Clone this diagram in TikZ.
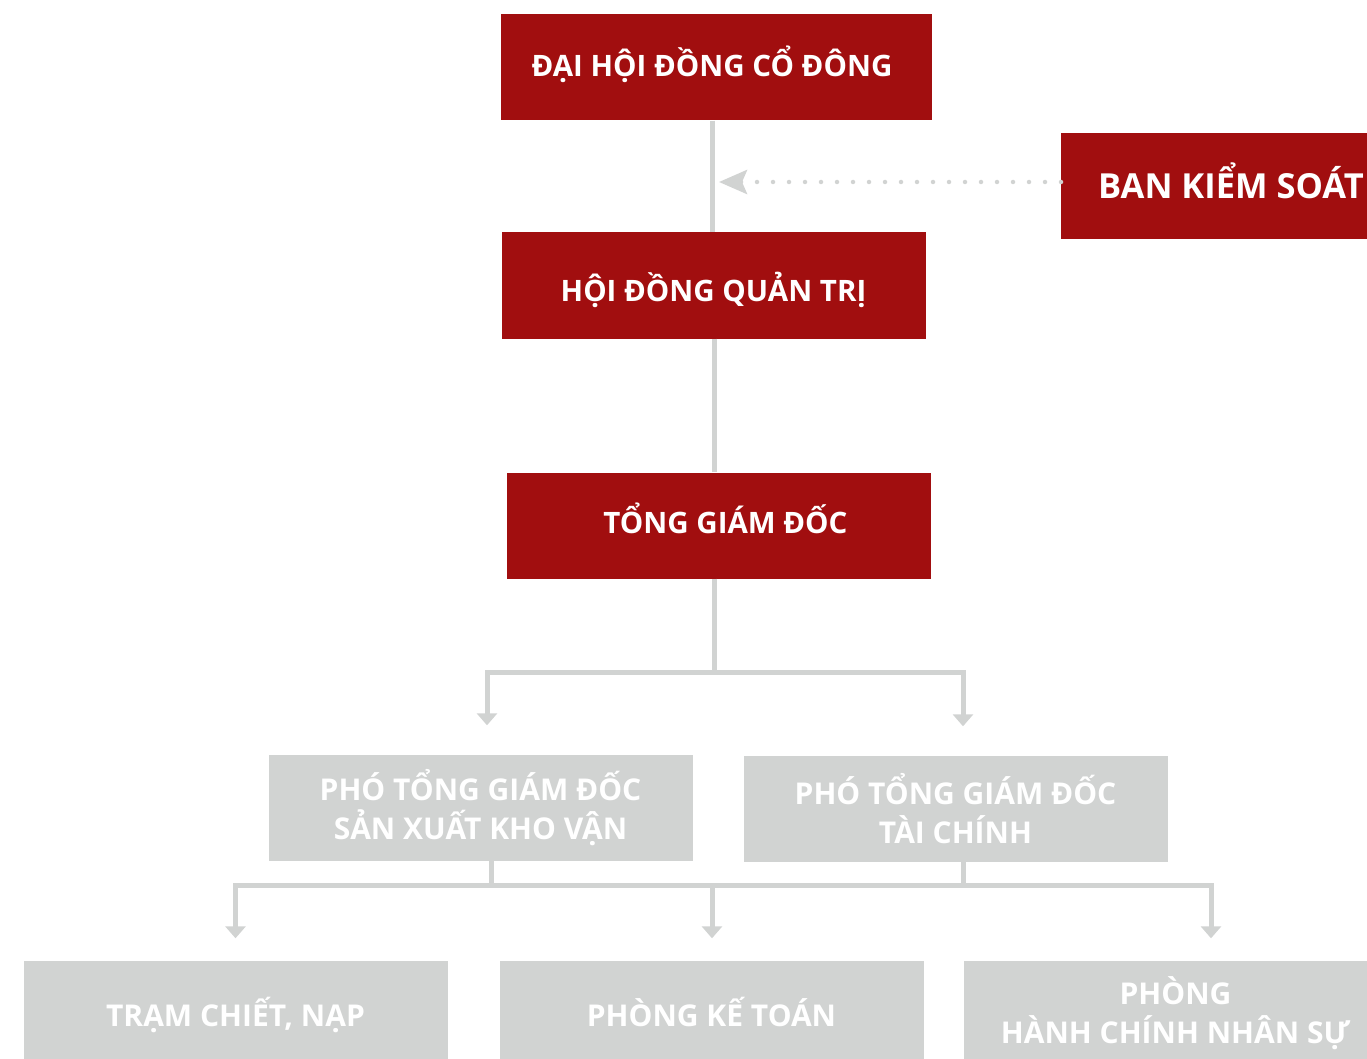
\documentclass[tikz,border=0pt]{standalone}
\usepackage{fontspec}
\setmainfont{Open Sans}
\usetikzlibrary{arrows.meta,positioning,calc}
\definecolor{boxred}{HTML}{A10E0F}
\definecolor{boxgray}{HTML}{D1D3D2}

\begin{document}
\begin{tikzpicture}[x=1pt, y=-1pt,
    redbox/.style={fill=boxred, text=white, font=\bfseries\fontsize{29.5}{36}\selectfont,
        minimum width=424pt, minimum height=106pt, inner sep=0pt, align=center,
        text height=21pt, text depth=0pt},
    graybox/.style={fill=boxgray, text=white, font=\bfseries\fontsize{30}{39}\selectfont,
        minimum width=424pt, minimum height=106pt, inner sep=0pt, align=center},
    oneline/.style={text height=25.5pt, text depth=0pt},
    conn/.style={draw=boxgray, line width=5pt},
    arr/.style={conn, -{Triangle[width=20pt,length=12pt]}},
    dotarr/.style={draw=boxgray, line width=4.5pt, line cap=round,
        dash pattern=on 0pt off 16pt, -{Stealth[length=28pt,width=24pt,inset=5pt]}}]
        \useasboundingbox (0,0) rectangle (1367,1059);
        % Boxes
        \node [redbox, minimum width=431pt, text depth=2pt] (dhdcd) at (716,67.5) {ĐẠI HỘI ĐỒNG CỔ ĐÔNG\hspace*{8pt}};
        \node [redbox, anchor=west, minimum width=0pt, inner xsep=37pt,
            font=\bfseries\fontsize{34.5}{40}\selectfont, text height=24.5pt] (bks) at (1061,186.5) {BAN KIỂM SOÁT};
        \node [redbox, text height=32pt] (hdqt) at (713.5,285.5) {HỘI ĐỒNG QUẢN TRỊ};
        \node [redbox, text depth=5pt] (tgd) at (718.5,525.5) {\hspace*{14pt}TỔNG GIÁM ĐỐC};
        \node [graybox] (ptgdsx) at (480.5,807.5) {PHÓ TỔNG GIÁM ĐỐC\\SẢN XUẤT KHO VẬN};
        \node [graybox] (ptgdtc) at (955.5,808.5) {PHÓ TỔNG GIÁM ĐỐC\\TÀI CHÍNH};
        \node [graybox, oneline] (tram) at (235.5,1013.5) {TRẠM CHIẾT, NẠP};
        \node [graybox, oneline] (pkt) at (711.5,1013.5) {PHÒNG KẾ TOÁN};
        \node [graybox, minimum width=423pt] (hcns) at (1175.5,1013.5) {PHÒNG\\HÀNH CHÍNH NHÂN SỰ};
        % Coordinates
        \coordinate (top) at (712,182);
        \coordinate (split1) at (714,672);
        \coordinate (split2) at (712,885);
        \coordinate (sx) at (491,885);
        \coordinate (tc) at (963,885);
        % Lines
        \draw [conn] (dhdcd.south -| top) -- (hdqt.north -| top);
        \draw [dotarr] (bks.west |- top) -- ([xshift=7pt]top);
        \draw [conn] (hdqt.south -| split1) -- (tgd.north -| split1);
        \draw [conn] (tgd.south -| split1) -- (split1);
        \draw [arr] (split1) -| ($(ptgdsx.north)+(6.5,-29)$);
        \draw [arr] (split1) -| ($(ptgdtc.north)+(7.5,-29)$);
        \draw [conn] (ptgdsx.south -| sx) -- (sx);
        \draw [conn] (ptgdtc.south -| tc) -- (tc);
        \draw [arr] (split2) -| ($(tram.north)+(0,-22)$);
        \draw [arr] (split2) -| ($(hcns.north)+(35.5,-22)$);
        \draw [arr] (split2) -- ($(pkt.north)+(0.5,-22)$);
\end{tikzpicture}
\end{document}
